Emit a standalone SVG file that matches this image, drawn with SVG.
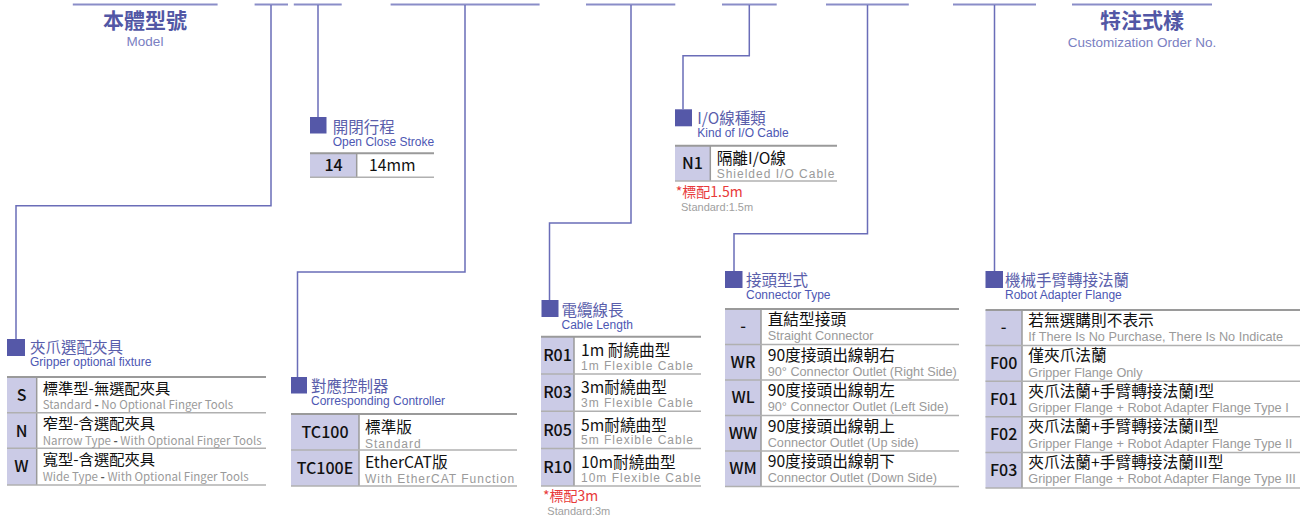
<svg xmlns="http://www.w3.org/2000/svg" width="1309" height="519" viewBox="0 0 1309 519">
<style>
.bar{stroke:#8a8dc8;stroke-width:2;fill:none}
.con{stroke:#6a6db8;stroke-width:1.5;fill:none}
.sq{fill:#5558a8}
.tcn{font-family:"Noto Sans CJK TC","Noto Sans CJK SC",sans-serif;font-size:15.5px;fill:#5a5eab}
.ten{font-family:"Liberation Sans",Arial,sans-serif;font-size:12px;fill:#4d57b3}
.big{font-family:"Noto Sans CJK TC","Noto Sans CJK SC",sans-serif;font-size:21px;font-weight:700;fill:#5257a5;text-anchor:middle}
.bigen{font-family:"Liberation Sans",Arial,sans-serif;font-size:13.5px;fill:#7a80c2;text-anchor:middle}
.code{fill:#cbcbe6}
.tl{stroke:#9a9a9a;stroke-width:2}
.rl{stroke:#b0b0b0;stroke-width:1.5}
.vl{stroke:#9a9a9a;stroke-width:1.5}
.cd{font-family:"Noto Sans CJK TC","Noto Sans CJK SC",sans-serif;font-size:16px;font-weight:500;fill:#111;text-anchor:middle}
.cn{font-family:"Noto Sans CJK TC","Noto Sans CJK SC",sans-serif;font-size:15.7px;fill:#111}
.cns{font-family:"Noto Sans CJK TC","Noto Sans CJK SC",sans-serif;font-size:15.3px;fill:#111}
.en{font-family:"Liberation Sans",Arial,sans-serif;font-size:12.7px;fill:#9a9a9a}
.ens{font-family:"Liberation Sans",Arial,sans-serif;font-size:12px;fill:#9a9a9a;letter-spacing:1px}
.eng{font-family:"Noto Sans CJK TC","Noto Sans CJK SC",sans-serif;font-size:11.5px;fill:#9a9a9a}
.dash{fill:#555;font-weight:700}
.red{font-family:"Noto Sans CJK TC","Noto Sans CJK SC",sans-serif;font-size:14px;fill:#e83a3a}
.std{font-family:"Liberation Sans",Arial,sans-serif;font-size:11px;fill:#a0a0a0}
</style>

<g id="connectors">
<line class="bar" x1="72.8" y1="4.5" x2="217.6" y2="4.5"/>
<line class="bar" x1="254.6" y1="4.5" x2="288" y2="4.5"/>
<line class="bar" x1="293.8" y1="4.5" x2="341.7" y2="4.5"/>
<line class="bar" x1="390.6" y1="4.5" x2="539.6" y2="4.5"/>
<line class="bar" x1="586" y1="4.5" x2="675.3" y2="4.5"/>
<line class="bar" x1="722" y1="4.5" x2="776.7" y2="4.5"/>
<line class="bar" x1="826" y1="4.5" x2="908.8" y2="4.5"/>
<line class="bar" x1="953" y1="4.5" x2="1036" y2="4.5"/>
<line class="bar" x1="1072" y1="4.5" x2="1212" y2="4.5"/>
<path class="con" d="M271,5 V205.7 H16 V339"/>
<path class="con" d="M318,5 V117"/>
<path class="con" d="M465,5 V272 H297.5 V377"/>
<path class="con" d="M631,5 V223 H549.5 V300"/>
<path class="con" d="M749.3,5 V55.7 H683 V109.3"/>
<path class="con" d="M867.5,5 V233.7 H734 V271"/>
<path class="con" d="M994.5,5 V271"/>
</g>

<g id="model">
<text class="big" x="145" y="28">本體型號</text>
<text class="bigen" x="145" y="46">Model</text>
</g>

<g id="custom">
<text class="big" x="1142" y="28">特注式樣</text>
<text class="bigen" x="1142" y="47">Customization Order No.</text>
</g>

<g id="gripper">
<rect class="sq" x="7" y="339" width="18" height="17"/>
<text class="tcn" x="30" y="353">夾爪選配夾具</text>
<text class="ten" x="30" y="366">Gripper optional fixture</text>
<rect class="code" x="7" y="377" width="29.7" height="108"/>
<line class="vl" x1="36.7" y1="377" x2="36.7" y2="485"/>
<line class="tl" x1="7" y1="377" x2="266" y2="377"/>
<line class="rl" x1="7" y1="412.7" x2="266" y2="412.7"/>
<line class="rl" x1="7" y1="448.3" x2="266" y2="448.3"/>
<line class="rl" x1="7" y1="485" x2="266" y2="485"/>
<text class="cd" x="21.5" y="401">S</text>
<text class="cd" x="21.5" y="436.5">N</text>
<text class="cd" x="21.5" y="472">W</text>
<text class="cns" x="42.7" y="393.5">標準型-無選配夾具</text>
<text class="eng" x="42.7" y="409.3">Standard <tspan class="dash">-</tspan> No Optional Finger Tools</text>
<text class="cns" x="42.7" y="429.2">窄型-含選配夾具</text>
<text class="eng" x="42.7" y="444.8">Narrow Type <tspan class="dash">-</tspan> With Optional Finger Tools</text>
<text class="cns" x="42.7" y="465.2">寬型-含選配夾具</text>
<text class="eng" x="42.7" y="480.8">Wide Type <tspan class="dash">-</tspan> With Optional Finger Tools</text>
</g>

<g id="stroke">
<rect class="sq" x="310" y="117" width="16.5" height="16.5"/>
<text class="tcn" x="332.7" y="132.5">開閉行程</text>
<text class="ten" x="332.7" y="146">Open Close Stroke</text>
<rect class="code" x="310" y="153.3" width="46.7" height="24"/>
<line class="vl" x1="356.7" y1="153.3" x2="356.7" y2="177.3"/>
<line class="tl" x1="310" y1="153.3" x2="434" y2="153.3"/>
<line class="rl" x1="310" y1="177.3" x2="434" y2="177.3"/>
<text class="cd" x="333.5" y="171" font-weight="400">14</text>
<text class="cn" x="369" y="171">14mm</text>
</g>

<g id="controller">
<rect class="sq" x="291" y="377" width="16" height="16.5"/>
<text class="tcn" x="311" y="391.5">對應控制器</text>
<text class="ten" x="311" y="405">Corresponding Controller</text>
<rect class="code" x="291" y="414" width="68" height="72"/>
<line class="vl" x1="359" y1="414" x2="359" y2="486"/>
<line class="tl" x1="291" y1="414" x2="517" y2="414"/>
<line class="rl" x1="291" y1="450" x2="517" y2="450"/>
<line class="rl" x1="291" y1="486" x2="517" y2="486"/>
<text class="cd" x="325" y="438">TC100</text>
<text class="cd" x="325" y="474">TC100E</text>
<text class="cn" x="365" y="432.5">標準版</text>
<text class="ens" x="365" y="447.5">Standard</text>
<text class="cn" x="365" y="468.3">EtherCAT版</text>
<text class="ens" x="365" y="482.8">With EtherCAT Function</text>
</g>

<g id="cable">
<rect class="sq" x="541.5" y="300" width="17" height="17"/>
<text class="tcn" x="561.5" y="315.5">電纜線長</text>
<text class="ten" x="561.5" y="329">Cable Length</text>
<rect class="code" x="541" y="336.7" width="33" height="149.3"/>
<line class="vl" x1="574" y1="336.7" x2="574" y2="486"/>
<line class="tl" x1="541" y1="336.7" x2="701" y2="336.7"/>
<line class="rl" x1="541" y1="374" x2="701" y2="374"/>
<line class="rl" x1="541" y1="411.3" x2="701" y2="411.3"/>
<line class="rl" x1="541" y1="448.6" x2="701" y2="448.6"/>
<line class="rl" x1="541" y1="486" x2="701" y2="486"/>
<text class="cd" x="557.5" y="361">R01</text>
<text class="cd" x="557.5" y="398.3">R03</text>
<text class="cd" x="557.5" y="435.6">R05</text>
<text class="cd" x="557.5" y="473">R10</text>
<text class="cn" x="581" y="356">1m 耐繞曲型</text>
<text class="ens" x="581" y="369.5">1m Flexible Cable</text>
<text class="cn" x="581" y="393.3">3m耐繞曲型</text>
<text class="ens" x="581" y="406.8">3m Flexible Cable</text>
<text class="cn" x="581" y="430.6">5m耐繞曲型</text>
<text class="ens" x="581" y="444.1">5m Flexible Cable</text>
<text class="cn" x="581" y="468">10m耐繞曲型</text>
<text class="ens" x="581" y="481.5">10m Flexible Cable</text>
<text class="red" x="543" y="500.7">*標配3m</text>
<text class="std" x="547.3" y="515">Standard:3m</text>
</g>

<g id="io">
<rect class="sq" x="675" y="109.3" width="17" height="17"/>
<text class="tcn" x="697.3" y="123.5">I/O線種類</text>
<text class="ten" x="697.3" y="136.7">Kind of I/O Cable</text>
<rect class="code" x="675" y="145.7" width="35.3" height="35.3"/>
<line class="vl" x1="710.3" y1="145.7" x2="710.3" y2="181"/>
<line class="tl" x1="675" y1="145.7" x2="837" y2="145.7"/>
<line class="rl" x1="675" y1="181" x2="837" y2="181"/>
<text class="cd" x="692.5" y="169">N1</text>
<text class="cn" x="716.7" y="164.3">隔離I/O線</text>
<text class="ens" x="716.7" y="178.3">Shielded I/O Cable</text>
<text class="red" x="675.7" y="196.7">*標配1.5m</text>
<text class="std" x="681" y="211">Standard:1.5m</text>
</g>

<g id="connector-type">
<rect class="sq" x="725" y="271" width="17.5" height="17"/>
<text class="tcn" x="746" y="285.5">接頭型式</text>
<text class="ten" x="746" y="298.5">Connector Type</text>
<rect class="code" x="725" y="309" width="36" height="177.5"/>
<line class="vl" x1="761" y1="309" x2="761" y2="486.5"/>
<line class="tl" x1="725" y1="309" x2="959" y2="309"/>
<line class="rl" x1="725" y1="344.5" x2="959" y2="344.5"/>
<line class="rl" x1="725" y1="380" x2="959" y2="380"/>
<line class="rl" x1="725" y1="415.5" x2="959" y2="415.5"/>
<line class="rl" x1="725" y1="451" x2="959" y2="451"/>
<line class="rl" x1="725" y1="486.5" x2="959" y2="486.5"/>
<text class="cd" x="743" y="332">-</text>
<text class="cd" x="743" y="367.5">WR</text>
<text class="cd" x="743" y="403">WL</text>
<text class="cd" x="743" y="438.5">WW</text>
<text class="cd" x="743" y="474">WM</text>
<text class="cn" x="767.7" y="325">直結型接頭</text>
<text class="en" x="767.7" y="340">Straight Connector</text>
<text class="cn" x="767.7" y="360.5">90度接頭出線朝右</text>
<text class="en" x="767.7" y="375.5">90° Connector Outlet (Right Side)</text>
<text class="cn" x="767.7" y="396">90度接頭出線朝左</text>
<text class="en" x="767.7" y="411">90° Connector Outlet (Left Side)</text>
<text class="cn" x="767.7" y="431.5">90度接頭出線朝上</text>
<text class="en" x="767.7" y="446.5">Connector Outlet (Up side)</text>
<text class="cn" x="767.7" y="467">90度接頭出線朝下</text>
<text class="en" x="767.7" y="482">Connector Outlet (Down Side)</text>
</g>

<g id="robot-flange">
<rect class="sq" x="985.5" y="271" width="17.5" height="17"/>
<text class="tcn" x="1005" y="285.5">機械手臂轉接法蘭</text>
<text class="ten" x="1005" y="298.5">Robot Adapter Flange</text>
<rect class="code" x="985.5" y="310" width="36.5" height="178"/>
<line class="vl" x1="1022" y1="310" x2="1022" y2="488"/>
<line class="tl" x1="985.5" y1="310" x2="1300" y2="310"/>
<line class="rl" x1="985.5" y1="345.6" x2="1300" y2="345.6"/>
<line class="rl" x1="985.5" y1="381.2" x2="1300" y2="381.2"/>
<line class="rl" x1="985.5" y1="416.8" x2="1300" y2="416.8"/>
<line class="rl" x1="985.5" y1="452.4" x2="1300" y2="452.4"/>
<line class="rl" x1="985.5" y1="488" x2="1300" y2="488"/>
<text class="cd" x="1003.7" y="333">-</text>
<text class="cd" x="1003.7" y="369">F00</text>
<text class="cd" x="1003.7" y="404.5">F01</text>
<text class="cd" x="1003.7" y="440">F02</text>
<text class="cd" x="1003.7" y="475.6">F03</text>
<text class="cn" x="1028.3" y="325.5">若無選購則不表示</text>
<text class="en" x="1028.3" y="341">If There Is No Purchase, There Is No Indicate</text>
<text class="cn" x="1028.3" y="361">僅夾爪法蘭</text>
<text class="en" x="1028.3" y="376.5">Gripper Flange Only</text>
<text class="cn" x="1028.3" y="396.7">夾爪法蘭+手臂轉接法蘭I型</text>
<text class="en" x="1028.3" y="412.2">Gripper Flange + Robot Adapter Flange Type I</text>
<text class="cn" x="1028.3" y="432.3">夾爪法蘭+手臂轉接法蘭II型</text>
<text class="en" x="1028.3" y="447.8">Gripper Flange + Robot Adapter Flange Type II</text>
<text class="cn" x="1028.3" y="467.9">夾爪法蘭+手臂轉接法蘭III型</text>
<text class="en" x="1028.3" y="483.4">Gripper Flange + Robot Adapter Flange Type III</text>
</g>
</svg>
